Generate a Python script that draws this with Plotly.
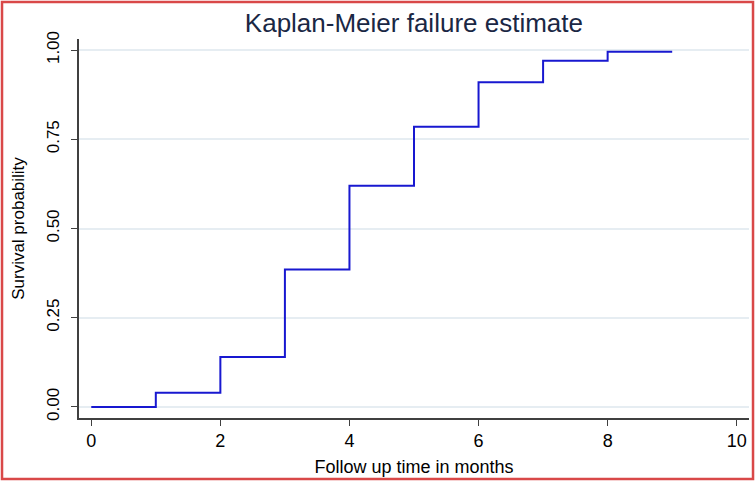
import plotly.graph_objects as go

time_months = [0, 1, 2, 3, 4, 5, 6, 7, 8, 9]
failure_prob = [0.0, 0.04, 0.14, 0.385, 0.62, 0.785, 0.91, 0.97, 0.995, 0.995]
x_ticks = [0, 2, 4, 6, 8, 10]
y_ticks = [0.0, 0.25, 0.5, 0.75, 1.0]
y_tick_labels = ["0.00", "0.25", "0.50", "0.75", "1.00"]

fig = go.Figure()
fig.add_trace(go.Scatter(
    x=time_months, y=failure_prob, mode="lines", line_shape="hv",
    line=dict(color="#1818d0", width=2), showlegend=False,
))

font = "Liberation Sans, Arial, sans-serif"
fig.update_layout(
    width=756, height=481,
    margin=dict(l=79, r=7, t=39, b=63),
    paper_bgcolor="white", plot_bgcolor="white",
    font=dict(family=font, color="black", size=17),
    title=dict(text="Kaplan-Meier failure estimate", x=0.5475, xanchor="center",
               y=0.953, yanchor="middle",
               font=dict(size=26, color="#1a2744", family=font)),
    xaxis=dict(range=[-0.19, 10.19], tickvals=x_ticks, showgrid=False, zeroline=False,
               showline=True, linecolor="#404040", linewidth=1.5,
               ticks="outside", ticklen=6, tickcolor="#404040",
               tickfont=dict(size=18), automargin=False,
               title=dict(text="Follow up time in months", font=dict(size=18), standoff=10)),
    yaxis=dict(range=[-0.031, 1.031], tickvals=y_ticks, ticktext=y_tick_labels,
               tickangle=-90, showgrid=True, gridcolor="#e6edf2", gridwidth=1.5,
               zeroline=False, showline=True, linecolor="#404040", linewidth=1.5,
               ticks="outside", ticklen=6, tickcolor="#404040", ticklabelstandoff=5,
               tickfont=dict(size=17), automargin=False,
               title=dict(text="Survival probability", font=dict(size=17), standoff=16)),
    shapes=[dict(type="rect", xref="paper", yref="paper",
                 x0=-0.1149, x1=1.006, y0=-0.161, y1=1.0976,
                 line=dict(color="#d94848", width=2.5), fillcolor="rgba(0,0,0,0)")],
)

fig.write_html("out.html", config={"displayModeBar": False},
               post_script="document.body.style.margin='0px';document.body.style.overflow='hidden';")
